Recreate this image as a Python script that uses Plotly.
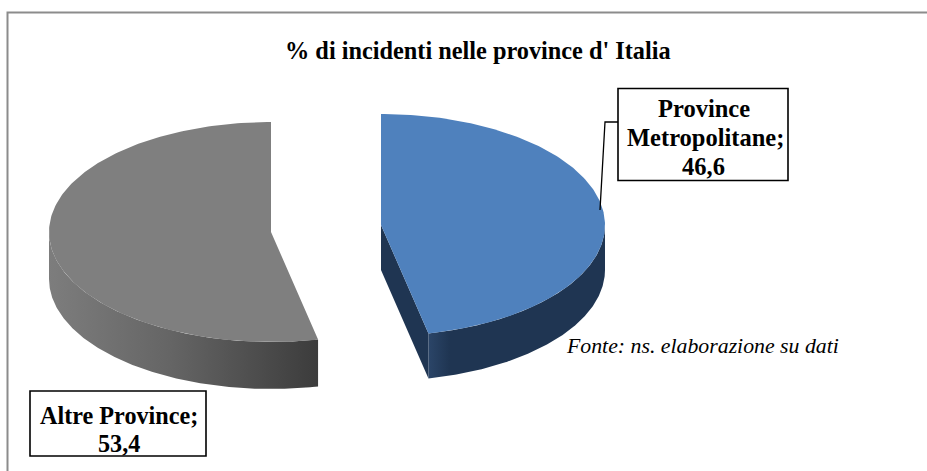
import numpy as np
import plotly.graph_objects as go

categories = ["Altre Province", "Province Metropolitane"]
values = [53.4, 46.6]
value_labels = ["53,4", "46,6"]
title_text = "% di incidenti nelle province d' Italia"
source_text = "Fonte: ns. elaborazione su dati"

FONT = "Liberation Serif"
W, H = 927, 471
total = sum(values)
split = np.pi * 2 * values[1] / total  # blue slice runs clockwise from 12 o'clock


def pt(cx, cy, rx, ry, a):
    return cx + rx * np.sin(a), cy - ry * np.cos(a)


def arc(cx, cy, rx, ry, a0, a1, n=200):
    a = np.linspace(a0, a1, n)
    return pt(cx, cy, rx, ry, a)


fig = go.Figure()


def poly(x, y, color=None, grad=None):
    kw = dict(x=list(x), y=list(y), mode="lines", line=dict(width=0), fill="toself",
              hoverinfo="skip", showlegend=False)
    if grad:
        kw["fillgradient"] = dict(type="horizontal", colorscale=grad)
    else:
        kw["fillcolor"] = color
    fig.add_trace(go.Scatter(**kw))


# Grey slice
gx, gy, grx, gry, depth_g = 271, 232, 222, 110, 47
ax, ay = arc(gx, gy, grx, gry, split, 1.5 * np.pi)
poly(np.r_[ax, ax[::-1]], np.r_[ay, ay[::-1] + depth_g],
     grad=[[0, "#7d7d7d"], [0.45, "#656565"], [1, "#3c3c3c"]])
ax, ay = arc(gx, gy, grx, gry, split, 2 * np.pi)
poly(np.r_[gx, ax, gx], np.r_[gy, ay, gy], color="#7f7f7f")

# Blue slice
bx, by, brx, bry, depth_b = 381, 225, 224, 111, 45
tx, ty = pt(bx, by, brx, bry, split)
poly([bx, tx, tx, bx], [by, ty, ty + depth_b, by + depth_b], color="#1f3552")
ax, ay = arc(bx, by, brx, bry, np.pi / 2, split)
poly(np.r_[ax, ax[::-1]], np.r_[ay, ay[::-1] + depth_b],
     grad=[[0, "#2b4568"], [0.12, "#1f3552"], [1, "#1f3552"]])
ax, ay = arc(bx, by, brx, bry, 0, split)
poly(np.r_[bx, ax, bx], np.r_[by, ay, by], color="#4f81bd")

# Leader line of the blue label
fig.add_trace(go.Scatter(x=[600, 605, 618], y=[210, 122, 122], mode="lines",
                         line=dict(color="black", width=1.3), hoverinfo="skip", showlegend=False))

shapes = [
    dict(type="rect", x0=7.5, y0=12.5, x1=960, y1=480, line=dict(color="#8c8c8c", width=2),
         fillcolor="rgba(0,0,0,0)", layer="below"),
    dict(type="rect", x0=618, y0=88.5, x1=788, y1=180.5, line=dict(color="black", width=1.6),
         fillcolor="white"),
    dict(type="rect", x0=30, y0=391, x1=206, y1=456, line=dict(color="black", width=1.6),
         fillcolor="white"),
]

annotations = [
    dict(x=478, y=50.5, text=f"<b>{title_text}</b>", font=dict(size=24.3)),
    dict(x=704, y=108.5, text="<b>Province</b>", font=dict(size=24.5)),
    dict(x=705, y=137.5, text=f"<b>{categories[1].split()[1]};</b>", font=dict(size=24.5)),
    dict(x=703, y=166.5, text=f"<b>{value_labels[1]}</b>", font=dict(size=24.5)),
    dict(x=118.5, y=415, text=f"<b>{categories[0]};</b>", font=dict(size=24.2)),
    dict(x=118.5, y=443, text=f"<b>{value_labels[0]}</b>", font=dict(size=24.2)),
    dict(x=702.5, y=346, text=f"<i>{source_text}</i>", font=dict(size=21.8)),
]
for a in annotations:
    a.update(xref="x", yref="y", showarrow=False, xanchor="center", yanchor="middle")
    a["font"].update(family=FONT, color="black")

fig.update_layout(
    width=W, height=H, margin=dict(l=0, r=0, t=0, b=0),
    paper_bgcolor="white", plot_bgcolor="white", showlegend=False,
    xaxis=dict(range=[0, W], visible=False, fixedrange=True),
    yaxis=dict(range=[H, 0], visible=False, fixedrange=True),
    shapes=shapes, annotations=annotations,
)
fig.write_html("out.html", config={"displayModeBar": False},
               post_script="document.body.style.margin='0';document.documentElement.style.overflow='hidden';")
